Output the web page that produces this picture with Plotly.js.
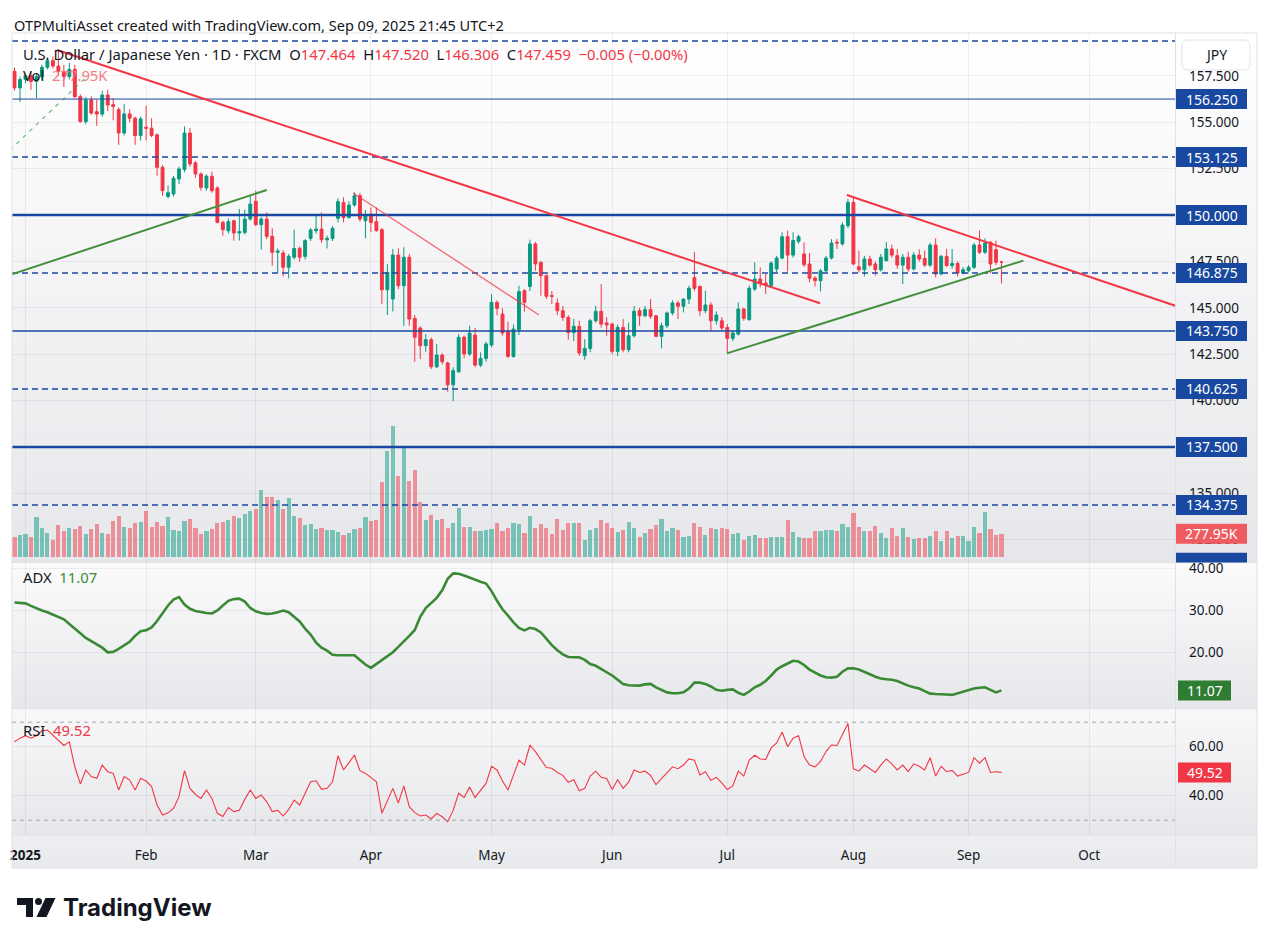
<!DOCTYPE html>
<html>
<head>
<meta charset="utf-8">
<title>USDJPY 1D FXCM</title>
<script src="https://cdn.plot.ly/plotly-3.0.1.min.js"></script>
<style>
html,body{margin:0;padding:0;background:#ffffff;}
#wrap{position:relative;width:1269px;height:944px;overflow:hidden;background:#ffffff;}
.bg{position:absolute;left:12px;width:1245px;}
#chart{position:absolute;left:0;top:0;width:1269px;height:944px;}
</style>
</head>
<body>
<div id="wrap">
  <div class="bg" style="top:33px;height:530px;background:linear-gradient(to bottom,#ffffff 0%,#f4f4f6 45%,#e6e7ea 100%);"></div>
  <div class="bg" style="top:563px;height:146px;background:linear-gradient(to bottom,#fbfbfc,#e6e7ea);"></div>
  <div class="bg" style="top:709px;height:126px;background:linear-gradient(to bottom,#f8f8f9,#e6e7ea);"></div>
  <div class="bg" style="top:835px;height:33px;background:linear-gradient(to bottom,#eeeff1,#e8e9ec);"></div>
  <div id="chart"></div>
</div>
<script>
// ---------------- DATA ----------------
const dates = [
"2024-12-31",
"2025-01-01","2025-01-02","2025-01-03","2025-01-06","2025-01-07","2025-01-08","2025-01-09","2025-01-10","2025-01-13","2025-01-14",
"2025-01-15","2025-01-16","2025-01-17","2025-01-20","2025-01-21","2025-01-22","2025-01-23","2025-01-24","2025-01-27","2025-01-28",
"2025-01-29","2025-01-30","2025-01-31",
"2025-02-03","2025-02-04","2025-02-05","2025-02-06","2025-02-07","2025-02-10","2025-02-11","2025-02-12","2025-02-13","2025-02-14",
"2025-02-17","2025-02-18","2025-02-19","2025-02-20","2025-02-21","2025-02-24","2025-02-25","2025-02-26","2025-02-27","2025-02-28",
"2025-03-03","2025-03-04","2025-03-05","2025-03-06","2025-03-07","2025-03-10","2025-03-11","2025-03-12","2025-03-13","2025-03-14",
"2025-03-17","2025-03-18","2025-03-19","2025-03-20","2025-03-21","2025-03-24","2025-03-25","2025-03-26","2025-03-27","2025-03-28","2025-03-31",
"2025-04-01","2025-04-02","2025-04-03","2025-04-04","2025-04-07","2025-04-08","2025-04-09","2025-04-10","2025-04-11","2025-04-14",
"2025-04-15","2025-04-16","2025-04-17","2025-04-18","2025-04-21","2025-04-22","2025-04-23","2025-04-24","2025-04-25","2025-04-28","2025-04-29","2025-04-30",
"2025-05-01","2025-05-02","2025-05-05","2025-05-06","2025-05-07","2025-05-08","2025-05-09","2025-05-12","2025-05-13","2025-05-14",
"2025-05-15","2025-05-16","2025-05-19","2025-05-20","2025-05-21","2025-05-22","2025-05-23","2025-05-26","2025-05-27","2025-05-28","2025-05-29","2025-05-30",
"2025-06-02","2025-06-03","2025-06-04","2025-06-05","2025-06-06","2025-06-09","2025-06-10","2025-06-11","2025-06-12","2025-06-13",
"2025-06-16","2025-06-17","2025-06-18","2025-06-19","2025-06-20","2025-06-23","2025-06-24","2025-06-25","2025-06-26","2025-06-27","2025-06-30",
"2025-07-01","2025-07-02","2025-07-03","2025-07-04","2025-07-07","2025-07-08","2025-07-09","2025-07-10","2025-07-11","2025-07-14",
"2025-07-15","2025-07-16","2025-07-17","2025-07-18","2025-07-21","2025-07-22","2025-07-23","2025-07-24","2025-07-25","2025-07-28","2025-07-29","2025-07-30","2025-07-31",
"2025-08-01","2025-08-04","2025-08-05","2025-08-06","2025-08-07","2025-08-08","2025-08-11","2025-08-12","2025-08-13","2025-08-14",
"2025-08-15","2025-08-18","2025-08-19","2025-08-20","2025-08-21","2025-08-22","2025-08-25","2025-08-26","2025-08-27","2025-08-28","2025-08-29",
"2025-09-01","2025-09-02","2025-09-03","2025-09-04","2025-09-05","2025-09-08","2025-09-09"
];

const open = [
157.75,156.85,157.30,157.50,157.20,157.45,157.96,158.32,158.03,157.75,
157.46,157.85,156.38,155.03,156.20,155.57,155.44,156.47,155.95,155.68,
154.42,155.45,155.22,154.28,154.73,154.68,154.32,152.57,151.00,151.13,
151.94,152.45,154.42,152.81,152.21,151.46,152.09,151.46,149.60,149.15,
149.69,149.03,149.06,149.78,150.74,149.48,149.78,148.85,147.99,147.95,
147.18,147.72,148.20,147.77,148.74,149.15,149.24,148.67,148.74,149.82,
150.68,149.87,150.54,151.04,149.69,150.05,149.64,149.21,145.97,145.47,
147.84,146.19,147.72,144.43,143.91,142.96,143.28,141.82,142.45,142.02,
140.85,141.55,143.41,142.51,143.53,141.91,142.27,142.99,145.29,144.66,
143.70,142.38,143.82,145.92,146.15,148.44,147.45,146.73,145.65,145.26,
144.84,144.48,143.67,144.00,142.42,142.81,144.30,144.81,144.18,144.12,
142.65,143.94,142.74,143.49,144.84,144.57,144.90,144.57,143.46,144.03,
144.72,145.26,145.08,145.47,146.62,146.15,144.84,145.15,144.30,144.30,
143.94,143.35,143.58,144.93,144.36,146.01,146.55,146.33,146.19,147.09,
147.68,148.83,147.84,148.58,147.90,147.36,146.60,146.46,146.99,147.68,
148.53,148.44,149.42,150.68,147.21,147.05,147.63,147.36,147.05,147.54,
148.17,147.81,147.30,147.72,147.09,147.84,147.66,147.30,148.38,146.82,
147.77,147.27,147.39,146.87,147.00,147.18,148.38,147.99,148.53,148.13,
147.464];

const high = [
157.95,157.45,157.65,157.70,157.60,158.10,158.50,158.55,158.87,158.10,
158.20,158.10,156.50,156.35,156.40,156.20,156.70,156.75,156.30,155.80,
155.99,155.70,155.30,155.30,155.90,155.22,154.40,152.70,151.60,152.10,
152.60,154.78,154.68,152.90,152.30,152.20,152.34,151.55,149.70,149.82,
149.75,150.32,150.29,151.08,151.31,149.90,150.14,149.28,148.20,148.10,
147.90,149.21,148.30,148.70,149.30,149.96,150.14,148.90,149.40,150.90,
150.95,150.75,151.22,151.19,150.27,150.41,150.41,149.30,147.36,148.17,
148.20,148.26,147.90,144.61,144.00,143.58,143.40,143.05,142.55,142.10,
141.79,143.58,143.50,144.03,143.91,142.60,143.17,145.74,145.40,144.97,
144.25,144.10,146.19,146.00,148.67,148.55,147.50,146.80,145.90,145.50,
145.10,144.60,144.40,144.30,143.30,144.40,145.10,146.28,144.50,144.20,
144.10,144.39,144.20,145.10,145.00,145.10,145.47,144.60,144.20,144.80,
145.40,145.38,145.50,146.19,148.00,146.20,145.92,145.30,144.80,144.50,
144.12,143.80,145.29,145.00,146.20,147.45,147.18,146.82,147.50,147.80,
149.07,149.16,149.07,148.95,148.53,147.95,146.70,147.10,147.80,148.70,
148.71,149.60,150.86,150.95,148.08,147.80,147.80,147.50,147.90,148.53,
148.40,148.17,147.90,148.02,148.00,148.15,148.08,148.50,148.74,147.85,
148.17,148.17,147.50,147.20,147.30,148.50,149.16,148.74,148.60,148.62,
147.520];

const low = [
156.70,156.10,157.10,156.75,156.30,157.30,157.85,157.90,157.50,156.90,
157.30,156.30,154.98,154.90,155.40,154.80,155.30,155.60,155.10,153.78,
154.30,155.00,153.78,154.01,154.01,154.20,152.12,151.04,150.90,151.00,
151.67,152.30,152.60,152.00,151.31,151.30,151.20,149.55,148.88,149.00,
148.62,148.62,148.95,149.70,149.40,148.13,148.70,147.27,146.91,146.69,
146.58,147.60,147.48,147.60,148.60,149.00,148.50,148.20,148.60,149.60,
149.60,149.80,150.45,149.65,148.74,149.07,149.10,145.20,144.61,144.80,
146.00,144.03,144.03,142.09,142.24,142.63,141.70,141.75,141.95,140.48,
139.96,141.50,142.27,142.40,141.80,141.80,142.10,142.87,144.60,143.50,
142.30,142.30,143.53,144.79,145.90,147.00,145.65,145.47,145.20,144.60,
144.30,143.28,143.20,142.40,142.20,142.60,144.20,143.93,143.49,142.50,
142.40,142.60,142.60,143.40,144.03,144.50,144.40,143.40,142.81,143.90,
144.60,144.39,144.75,145.20,145.90,144.57,144.70,143.76,144.10,143.75,
142.60,143.20,143.50,144.30,144.30,145.90,146.10,145.74,146.10,146.90,
147.60,146.95,147.70,148.45,147.20,146.37,146.15,145.88,146.90,147.60,
148.17,148.35,149.30,147.30,146.90,146.69,147.20,146.73,146.95,147.50,
147.70,147.10,146.28,146.95,147.00,147.50,147.20,147.20,146.64,146.75,
147.20,147.10,146.69,146.80,146.90,147.10,147.90,147.90,146.87,147.30,
146.306];

const close = [
156.85,157.30,157.50,157.20,157.45,157.96,158.32,158.03,157.75,157.46,
157.85,156.38,155.03,156.20,155.50,155.44,156.47,155.93,155.85,154.42,
155.45,155.22,154.28,155.18,154.68,154.28,152.57,151.31,151.20,151.98,
152.48,154.42,152.75,152.21,151.49,152.09,151.31,149.60,149.21,149.64,
149.03,149.10,149.78,150.59,149.48,149.78,148.85,147.99,148.06,147.18,
147.77,148.20,147.72,148.62,149.19,149.24,148.67,148.74,149.28,150.72,
149.87,150.54,151.04,149.78,149.96,149.60,149.16,145.97,146.91,147.84,
146.19,147.72,144.39,143.41,142.96,143.28,141.82,142.45,142.09,140.85,
141.61,143.41,142.51,143.64,141.91,142.27,143.05,145.29,144.97,143.64,
142.38,143.85,145.87,145.29,148.44,147.36,146.73,145.62,145.62,144.84,
144.48,143.67,144.00,142.56,142.81,144.30,144.81,144.12,144.07,142.65,
143.94,142.74,143.49,144.81,144.57,144.90,144.54,143.46,144.03,144.72,
145.26,145.08,145.47,146.05,146.05,144.84,145.15,144.30,144.61,143.91,
143.35,143.64,144.93,144.43,146.05,146.55,146.32,146.23,147.41,147.68,
148.83,147.84,148.62,148.83,147.32,146.59,146.46,146.99,147.68,148.49,
148.49,149.46,150.68,147.36,147.05,147.63,147.30,147.05,147.72,148.17,
147.84,147.30,147.72,147.09,147.84,147.63,147.30,148.38,146.82,147.77,
147.27,147.39,146.87,147.05,147.18,148.38,147.99,148.49,147.36,147.45,
147.459];

// volume in thousands
const volumeK = [
241.6,261.8,273.8,241.6,479.2,346.3,285.9,201.4,382.6,310.1,
346.3,334.2,370.5,273.8,334.2,394.6,285.9,273.8,430.9,491.3,
358.4,346.3,406.7,418.8,551.7,358.4,418.8,370.5,479.2,322.2,
310.1,430.9,455.1,346.3,273.8,310.1,334.2,406.7,418.8,443.0,
491.3,467.1,515.5,551.7,575.9,805.4,720.8,720.8,684.6,575.9,
708.8,491.3,467.1,382.6,394.6,334.2,346.3,322.2,322.2,298.0,
261.8,285.9,334.2,346.3,479.2,430.9,443.0,902.0,1276.6,1578.6,
974.5,1312.8,914.1,1047.0,660.4,443.0,503.4,443.0,455.1,346.3,
406.7,587.9,358.4,358.4,310.1,310.1,322.2,334.2,406.7,310.1,
346.3,406.7,394.6,285.9,491.3,346.3,394.6,346.3,273.8,455.1,
322.2,406.7,406.7,406.7,201.4,322.2,346.3,443.0,406.7,346.3,
298.0,322.2,418.8,346.3,237.6,285.9,334.2,382.6,455.1,310.1,
346.3,322.2,237.6,249.7,406.7,358.4,261.8,346.3,334.2,346.3,
334.2,273.8,285.9,201.4,249.7,261.8,225.5,225.5,237.6,237.6,
237.6,443.0,298.0,237.6,225.5,225.5,310.1,310.1,322.2,322.2,
310.1,394.6,358.4,527.5,358.4,310.1,310.1,370.5,285.9,225.5,
346.3,249.7,346.3,237.6,213.4,225.5,225.5,249.7,310.1,189.3,
310.1,225.5,249.7,249.7,189.3,358.4,285.9,539.6,334.2,261.8,
277.95];

const adx = [
31.9,31.8,31.7,31.1,30.5,30.0,29.6,29.0,28.5,27.9,
26.8,25.6,24.6,23.5,22.7,22.0,21.2,20.1,20.2,20.9,
21.7,22.6,24.0,25.1,25.3,26.0,27.5,29.3,31.2,32.6,
33.2,31.4,30.4,29.9,29.6,29.4,29.3,30.0,31.2,32.3,
32.7,32.8,32.1,30.6,29.8,29.4,29.2,29.3,29.6,30.0,
29.6,28.6,27.4,25.7,24.3,22.4,21.2,20.5,19.5,19.4,
19.4,19.3,19.4,18.3,17.2,16.4,17.3,18.2,19.2,20.1,
21.4,22.6,24.0,25.4,28.5,30.6,31.9,33.0,34.8,37.5,
38.8,38.7,38.3,37.8,37.2,36.8,36.4,34.6,32.3,30.3,
28.8,27.2,25.9,25.3,25.9,25.6,24.8,23.2,21.8,20.6,
19.6,19.0,18.9,18.9,18.3,17.3,16.9,16.2,15.5,14.6,
13.6,12.6,12.3,12.2,12.2,12.5,12.6,11.8,11.2,10.6,
10.4,10.4,10.6,11.5,12.9,12.9,12.6,12.0,11.2,11.0,
11.2,11.3,10.5,10.0,10.8,11.8,12.4,13.3,14.6,16.0,
16.8,17.5,18.1,17.9,17.1,16.0,15.2,14.6,14.2,14.1,
14.3,15.5,16.3,16.3,16.0,15.5,14.9,14.3,13.9,13.7,
13.6,13.3,12.7,12.2,11.8,11.5,10.9,10.3,10.2,10.2,
10.1,10.0,10.4,10.8,11.2,11.5,11.7,11.8,11.2,10.6,
11.07];

const rsi = [
62.0,63.5,64.5,63.5,64.5,66.5,66.8,64.8,62.7,60.5,
62.0,51.8,44.8,50.5,47.8,47.1,52.5,49.8,49.1,42.3,
47.8,46.4,42.3,47.1,46.0,43.7,36.2,32.1,33.0,34.8,
39.6,50.2,43.0,40.5,38.9,42.3,38.9,32.8,31.5,35.2,
33.5,34.1,38.5,42.3,38.9,40.3,37.5,33.5,34.0,31.7,
34.4,38.2,36.2,41.0,45.7,46.1,42.6,43.0,45.7,56.3,
50.5,53.5,56.6,50.2,49.1,47.5,45.7,32.8,38.2,43.0,
37.0,44.0,35.5,33.1,31.7,32.1,30.5,32.8,31.4,29.4,
34.0,41.0,39.3,43.5,39.3,42.0,45.0,52.0,50.5,46.0,
42.3,48.4,54.5,52.5,60.7,58.0,54.5,51.5,51.2,49.5,
48.3,45.5,46.5,42.0,43.0,48.0,50.0,47.5,47.0,42.5,
46.5,43.0,45.5,50.5,49.5,50.0,48.3,44.5,47.0,49.5,
51.8,51.0,52.5,55.0,54.5,48.5,49.8,46.3,47.5,45.2,
42.5,44.0,50.0,48.0,54.5,56.5,55.0,54.8,59.5,61.5,
66.0,60.0,63.5,64.5,56.0,52.5,51.8,54.0,58.0,60.7,
60.5,65.0,69.5,51.0,50.0,52.5,51.0,49.5,52.5,55.0,
53.0,50.5,52.5,49.8,53.0,52.0,50.5,55.5,48.0,52.0,
49.8,50.3,48.0,48.8,49.5,55.5,53.3,55.5,49.5,49.8,
49.52];

const monthTickDates = ["2025-01-02","2025-02-03","2025-03-03","2025-04-01","2025-05-01","2025-06-02","2025-07-01","2025-08-01","2025-09-01","2025-10-01"];
const monthTickLabels = ["<b>2025</b>","Feb","Mar","Apr","May","Jun","Jul","Aug","Sep","Oct"];
const priceTicks = [132.5,135,140,142.5,145,147.5,152.5,155,157.5];
const adxTicks = [20,30,40];
const rsiTicks = [40,60];

// horizontal levels drawn on the chart
const levelValues = [159.375,156.25,153.125,150,146.875,143.75,140.625,137.5,134.375,131.25];
const levelLabels = ["159.375","156.250","153.125","150.000","146.875","143.750","140.625","137.500","134.375","131.250"];
const levelDashed = [true,false,true,false,true,false,true,false,true,false];

// trend-line drawings: [date0, price0, date1, price1]
const trendRed = [
  ["2025-01-10 06:00",158.89,"2025-07-24 10:00",145.24],
  ["2025-07-31 07:00",151.08,"2025-10-24 12:00",144.98]
];
const trendRedThin = [["2025-03-27 06:00",151.19,"2025-05-14 04:00",144.61]];
const trendGreen = [
  ["2024-12-30 16:00",146.77,"2025-03-05 12:00",151.35],
  ["2025-07-01 10:00",142.54,"2025-09-15 12:00",147.54]
];
const trendGreenDash = [["2024-12-30 16:00",153.50,"2025-01-17 16:00",157.46]];

const lastVolLabel = "277.95K";
const lastAdxLabel = "11.07";
const lastRsiLabel = "49.52";

// ---------------- LAYOUT HELPERS ----------------
const FONT = '"Noto Sans","Open Sans",sans-serif';
const TXT = '#131722';
const GRID = 'rgba(42,46,57,0.07)';
const UP = '#089981', DOWN = '#f23645';
const BLUE = '#1848a0';
const PL = 12, PR = 1175, PT = 33, PB = 835;
const pw = PR - PL, ph = PB - PT;
const px = x => (x - PL) / pw;
const py = y => (PB - y) / ph;
const ptStr = (x, y) => px(x).toFixed(5) + ',' + py(y).toFixed(5);

const xs = dates.map(d => d + ' 12:00');
const volColors = close.map((c, i) => c >= open[i] ? 'rgba(8,153,129,0.5)' : 'rgba(242,54,69,0.5)');

const traces = [
  {type:'bar', x:xs, y:volumeK, xaxis:'x', yaxis:'y2', marker:{color:volColors, line:{width:0}},
   width:0.76*86400000, hoverinfo:'skip'},
  {type:'candlestick', x:xs, open:open, high:high, low:low, close:close, xaxis:'x', yaxis:'y',
   increasing:{line:{color:UP,width:1}, fillcolor:UP},
   decreasing:{line:{color:DOWN,width:1}, fillcolor:DOWN},
   whiskerwidth:0, hoverinfo:'skip'},
  {type:'scatter', mode:'lines', x:xs, y:adx, xaxis:'x', yaxis:'y3',
   line:{color:'#3a8a35', width:2.6, shape:'linear'}, hoverinfo:'skip'},
  {type:'scatter', mode:'lines', x:xs, y:rsi, xaxis:'x', yaxis:'y4',
   line:{color:'#f23645', width:1.1}, hoverinfo:'skip'}
];

const shapes = [];
const annotations = [];
// horizontal levels
levelValues.forEach((v, i) => {
  const thick = (v === 150 || v === 137.5) ? 2.5 : (v === 143.75 || v === 131.25 ? 1.5 : (levelDashed[i] ? 1.5 : 1));
  shapes.push({type:'line', xref:'paper', yref:'y', x0:0, x1:1, y0:v, y1:v,
    line:{color:BLUE, width:thick, dash: levelDashed[i] ? '6px,4px' : 'solid'}});
});
// trend lines
trendRed.forEach(t => shapes.push({type:'line', xref:'x', yref:'y', x0:t[0], y0:t[1], x1:t[2], y1:t[3],
  line:{color:'#f23645', width:2}}));
trendRedThin.forEach(t => shapes.push({type:'line', xref:'x', yref:'y', x0:t[0], y0:t[1], x1:t[2], y1:t[3],
  line:{color:'rgba(242,54,69,0.75)', width:1.3}}));
trendGreen.forEach(t => shapes.push({type:'line', xref:'x', yref:'y', x0:t[0], y0:t[1], x1:t[2], y1:t[3],
  line:{color:'#43903b', width:2}}));
trendGreenDash.forEach(t => shapes.push({type:'line', xref:'x', yref:'y', x0:t[0], y0:t[1], x1:t[2], y1:t[3],
  line:{color:'rgba(67,160,71,0.75)', width:1.2, dash:'4px,5px'}}));
// RSI bands 70 / 30
[70,30].forEach(v => shapes.push({type:'line', xref:'paper', yref:'y4', x0:0, x1:1, y0:v, y1:v,
  line:{color:'#a3a6af', width:1, dash:'4px,4px'}}));
// pane separators / frame
const sepColor = '#dfe1e6';
[562.5, 708.5, 835].forEach(y => shapes.push({type:'line', xref:'paper', yref:'paper',
  x0:px(12), x1:px(1257), y0:py(y), y1:py(y), line:{color:sepColor, width:1}}));
shapes.push({type:'line', xref:'paper', yref:'paper', x0:px(1175.5), x1:px(1175.5), y0:py(33), y1:py(868),
  line:{color:sepColor, width:1}});
shapes.push({type:'rect', xref:'paper', yref:'paper', x0:px(12), x1:px(1257), y0:py(868), y1:py(33),
  line:{color:sepColor, width:1}, fillcolor:'rgba(0,0,0,0)'});

// price-scale value labels: box as a shape (clipped to its pane), text as annotation
function scaleLabel(yref, v, text, bg, x0, x1) {
  shapes.push({type:'rect', xref:'paper', yref:yref, x0:px(x0), x1:px(x1),
    ysizemode:'pixel', yanchor:v, y0:-10, y1:10, line:{width:0}, fillcolor:bg});
  annotations.push({xref:'paper', yref:yref, x:px((x0 + x1) / 2), y:v, xanchor:'center', yanchor:'middle',
    showarrow:false, text:text, font:{family:FONT, size:14, color:'#ffffff'}});
}
levelValues.forEach((v, i) => {
  if (v > 159 || v < 131.5) {
    if (v < 131.5) shapes.push({type:'rect', xref:'paper', yref:'y', x0:px(1176), x1:px(1247),
      ysizemode:'pixel', yanchor:v, y0:-10, y1:10, line:{width:0}, fillcolor:BLUE});
    return;
  }
  scaleLabel('y', v, levelLabels[i], BLUE, 1176, 1247);
});
scaleLabel('y2', volumeK[volumeK.length-1], lastVolLabel, '#f05b61', 1176, 1247);
scaleLabel('y3', adx[adx.length-1], lastAdxLabel, '#2e7d32', 1178, 1231);
scaleLabel('y4', rsi[rsi.length-1], lastRsiLabel, '#f23645', 1178, 1231);

// JPY rounded box
function roundRect(x0, y0, x1, y1, r) {
  return 'M' + ptStr(x0 + r, y0) + ' L' + ptStr(x1 - r, y0) + ' Q' + ptStr(x1, y0) + ' ' + ptStr(x1, y0 + r) +
    ' L' + ptStr(x1, y1 - r) + ' Q' + ptStr(x1, y1) + ' ' + ptStr(x1 - r, y1) +
    ' L' + ptStr(x0 + r, y1) + ' Q' + ptStr(x0, y1) + ' ' + ptStr(x0, y1 - r) +
    ' L' + ptStr(x0, y0 + r) + ' Q' + ptStr(x0, y0) + ' ' + ptStr(x0 + r, y0) + ' Z';
}
shapes.push({type:'path', xref:'paper', yref:'paper', path:roundRect(1182, 40, 1250, 70, 6),
  line:{color:'#e0e3eb', width:1}, fillcolor:'#ffffff'});
// TradingView logo mark
function poly(pts) { return 'M' + pts.map(p => ptStr(p[0], p[1])).join(' L') + ' Z'; }
shapes.push({type:'path', xref:'paper', yref:'paper', path:poly([[17,898],[33,898],[33,917],[26,917],[26,905],[17,905]]),
  line:{width:0}, fillcolor:TXT});
shapes.push({type:'circle', xref:'paper', yref:'paper', x0:px(35), x1:px(42), y0:py(905), y1:py(898),
  line:{width:0}, fillcolor:TXT});
shapes.push({type:'path', xref:'paper', yref:'paper', path:poly([[45.5,898],[55.5,898],[46.5,917],[36.5,917]]),
  line:{width:0}, fillcolor:TXT});

const red = s => '<span style="color:#f23645">' + s + '</span>';
annotations.push({xref:'paper', yref:'paper', x:px(12), y:py(25), xanchor:'left', yanchor:'middle', showarrow:false,
  text:'OTPMultiAsset created with TradingView.com, Sep 09, 2025 21:45 UTC+2', font:{family:FONT, size:14.5, color:TXT}});
annotations.push({xref:'paper', yref:'paper', x:px(21), y:py(54), xanchor:'left', yanchor:'middle', showarrow:false,
  text:'U.S. Dollar / Japanese Yen · 1D · FXCM&nbsp;&nbsp;O' + red('147.464') + '&nbsp;&nbsp;H' + red('147.520') +
       '&nbsp;&nbsp;L' + red('146.306') + '&nbsp;&nbsp;C' + red('147.459') + '&nbsp;&nbsp;' + red('−0.005 (−0.00%)'),
  font:{family:FONT, size:14.8, color:TXT}});
annotations.push({xref:'paper', yref:'paper', x:px(21), y:py(75), xanchor:'left', yanchor:'middle', showarrow:false,
  text:'Vol&nbsp;&nbsp;<span style="color:#f47c85">' + lastVolLabel + '</span>', font:{family:FONT, size:14.8, color:TXT}});
annotations.push({xref:'paper', yref:'paper', x:px(21), y:py(577), xanchor:'left', yanchor:'middle', showarrow:false,
  text:'ADX&nbsp;&nbsp;<span style="color:#3a8a35">' + lastAdxLabel + '</span>', font:{family:FONT, size:14.8, color:TXT}});
annotations.push({xref:'paper', yref:'paper', x:px(21), y:py(730), xanchor:'left', yanchor:'middle', showarrow:false,
  text:'RSI&nbsp;&nbsp;<span style="color:#f23645">' + lastRsiLabel + '</span>', font:{family:FONT, size:14.8, color:TXT}});
annotations.push({xref:'paper', yref:'paper', x:px(1216), y:py(55), xanchor:'center', yanchor:'middle', showarrow:false,
  text:'JPY', font:{family:FONT, size:14, color:TXT}});
annotations.push({xref:'paper', yref:'paper', x:px(61), y:py(907), xanchor:'left', yanchor:'middle', showarrow:false,
  text:'<b>TradingView</b>', font:{family:'Inter,"Noto Sans",sans-serif', size:24, color:TXT}});

const axisFont = {family:FONT, size:13.5, color:TXT};
const layout = {
  width:1269, height:944,
  margin:{l:PL, r:1269-PR, t:PT, b:944-PB, pad:0},
  paper_bgcolor:'rgba(0,0,0,0)', plot_bgcolor:'rgba(0,0,0,0)',
  showlegend:false, boxgap:0.25, bargap:0,
  font:{family:FONT, color:TXT, size:13},
  xaxis:{type:'date', range:['2024-12-31 01:00','2025-10-23 03:36'],
    rangebreaks:[{bounds:['sat','mon']}],
    tickmode:'array', tickvals:monthTickDates.map(d => d + ' 12:00'), ticktext:monthTickLabels,
    showgrid:true, gridcolor:GRID, gridwidth:1, zeroline:false, showline:false, ticks:'',
    tickfont:axisFont, ticklabelstandoff:10, anchor:'y4', fixedrange:true,
    rangeslider:{visible:false}},
  yaxis:{domain:[py(562.5),1], range:[131.27,159.81], side:'right', anchor:'x',
    tickmode:'array', tickvals:priceTicks, ticktext:priceTicks.map(v => v.toFixed(3)),
    showgrid:true, gridcolor:GRID, zeroline:false, showline:false, ticks:'',
    ticklabelstandoff:13, tickfont:axisFont, fixedrange:true},
  yaxis2:{overlaying:'y', range:[-70, 6326], visible:false, fixedrange:true},
  yaxis3:{domain:[py(708.5), py(563)], range:[6.78,41.26], side:'right', anchor:'x',
    tickmode:'array', tickvals:adxTicks, ticktext:adxTicks.map(v => v.toFixed(2)),
    showgrid:true, gridcolor:GRID, zeroline:false, showline:false, ticks:'',
    ticklabelstandoff:13, tickfont:axisFont, fixedrange:true},
  yaxis4:{domain:[0, py(709)], range:[23.96,75.39], side:'right', anchor:'x',
    tickmode:'array', tickvals:rsiTicks, ticktext:rsiTicks.map(v => v.toFixed(2)),
    showgrid:true, gridcolor:GRID, zeroline:false, showline:false, ticks:'',
    ticklabelstandoff:13, tickfont:axisFont, fixedrange:true},
  shapes:shapes,
  annotations:annotations
};

Plotly.newPlot('chart', traces, layout, {staticPlot:true, displayModeBar:false});
</script>
</body>
</html>
